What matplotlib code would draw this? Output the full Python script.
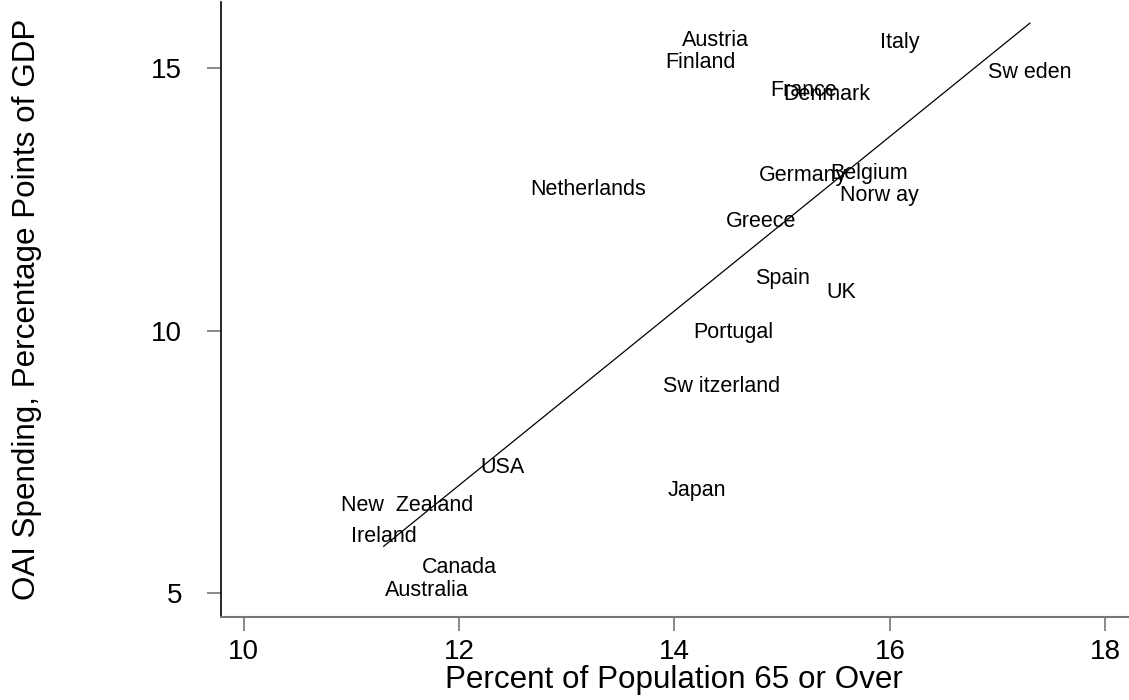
import numpy as np
import matplotlib.pyplot as plt

plt.rcParams['font.family'] = ['Liberation Sans', 'DejaVu Sans']

countries = ['Austria', 'Italy', 'Sw eden', 'Finland', 'France', 'Denmark',
             'Germany', 'Belgium', 'Norw ay', 'Greece', 'Netherlands', 'Spain',
             'UK', 'Portugal', 'Sw itzerland', 'USA', 'Japan', 'New  Zealand',
             'Ireland', 'Canada', 'Australia']
pop65 = [14.38, 16.09, 17.30, 14.24, 15.20, 15.41,
         15.19, 15.81, 15.90, 14.80, 13.20, 15.00,
         15.55, 14.55, 14.44, 12.40, 14.21, 11.52,
         11.30, 12.00, 11.70]
oai = [15.53, 15.48, 14.92, 15.10, 14.58, 14.50,
       12.96, 13.00, 12.58, 12.07, 12.68, 11.00,
       10.72, 9.96, 8.93, 7.39, 6.95, 6.68,
       6.09, 5.50, 5.06]

# fitted line
fit_slope = 1.660
fit_icept = -12.863

x = np.array(pop65)
y = np.array(oai)
xs = np.array([x.min(), x.max()])

fig = plt.figure(figsize=(11.29, 7), dpi=100)
ax = fig.add_axes([0.1957, 0.1186, 0.8033, 0.8784])

# labels sit on the points themselves (no markers), overlaps as in the original
for name, xi, yi in zip(countries, x, y):
    ax.text(xi, yi, name, ha='center', va='center', fontsize=15.5)
ax.plot(xs, fit_icept + fit_slope * xs, color='black', lw=0.9)

ax.set_xlim(9.789, 18.21)
ax.set_ylim(4.549, 16.256)
ax.set_xticks([10, 12, 14, 16, 18])
ax.set_yticks([5, 10, 15])
ax.tick_params(axis='both', direction='out', length=10, width=1.2,
               color='#777777', labelsize=20, pad=6)
ax.tick_params(axis='y', pad=18)

for s in ['top', 'right']:
    ax.spines[s].set_visible(False)
ax.spines['left'].set_color('black')
ax.spines['bottom'].set_color('#777777')
ax.spines['left'].set_linewidth(1.2)
ax.spines['bottom'].set_linewidth(1.5)

ax.set_xlabel('Percent of Population 65 or Over', fontsize=22.6, labelpad=0)
ax.set_ylabel('OAI Spending, Percentage Points of GDP', fontsize=22.6)
ax.yaxis.set_label_coords(-0.197, 0.5)

fig.savefig('out.png', dpi=100)
